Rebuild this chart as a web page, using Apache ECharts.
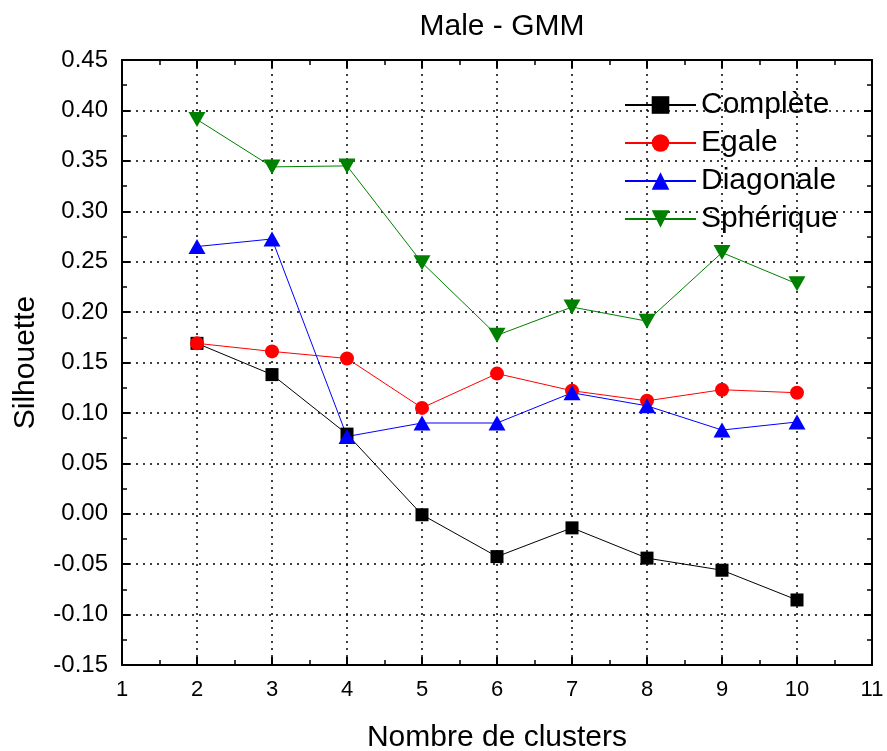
<!DOCTYPE html>
<html>
<head>
<meta charset="utf-8">
<script src="https://cdn.jsdelivr.net/npm/echarts@6/dist/echarts.min.js"></script>
<style>html,body{margin:0;padding:0;background:#fff}#c{width:887px;height:751px}</style>
</head>
<body>
<div id="c"></div>
<script>
const clusters = [2, 3, 4, 5, 6, 7, 8, 9, 10];
const complete = [0.169, 0.138, 0.079, -0.001, -0.0425, -0.014, -0.044, -0.056, -0.0855];
const egale = [0.169, 0.161, 0.154, 0.105, 0.139, 0.122, 0.112, 0.123, 0.120];
const diagonale = [0.265, 0.2725, 0.0766, 0.090, 0.090, 0.120, 0.107, 0.083, 0.091];
const spherique = [0.391, 0.344, 0.345, 0.249, 0.177, 0.205, 0.191, 0.259, 0.228];
const seriesNames = ['Complète', 'Egale', 'Diagonale', 'Sphérique'];

const FONT = 'Liberation Sans, Arial, sans-serif';
const pair = arr => clusters.map((x, i) => [x, arr[i]]);

const chart = echarts.init(document.getElementById('c'), null, {renderer: 'canvas'});
const axisCommon = {
  axisLine: {show: true, onZero: false, lineStyle: {color: '#000', width: 2}},
  axisTick: {show: true, inside: true, length: 8, lineStyle: {color: '#000', width: 2}},
  minorTick: {show: true, splitNumber: 2, length: 5, lineStyle: {color: '#000', width: 1.5}},
};
chart.setOption({
  animation: false,
  backgroundColor: '#fff',
  title: {
    text: 'Male - GMM', left: 497, top: 7, textAlign: 'center',
    textStyle: {fontFamily: FONT, fontSize: 30, fontWeight: 'normal', color: '#000'}
  },
  grid: {left: 122, right: 15, top: 60, bottom: 86, outerBoundsMode: 'none', containLabel: false},
  legend: {
    orient: 'vertical', left: 619, top: 85,
    itemWidth: 71, itemHeight: 22, itemGap: 8,
    textStyle: {fontFamily: FONT, fontSize: 30, color: '#000'},
    data: seriesNames
  },
  xAxis: [
    Object.assign({
      type: 'value', min: 1, max: 11, interval: 1, position: 'bottom',
      name: 'Nombre de clusters', nameLocation: 'middle', nameGap: 58,
      nameTextStyle: {fontFamily: FONT, fontSize: 30, color: '#000'},
      axisLabel: {fontFamily: FONT, fontSize: 22, color: '#000', margin: 14},
      splitLine: {show: true, lineStyle: {color: '#000', type: [2, 5], width: 1.5}}
    }, axisCommon),
    Object.assign({
      type: 'value', min: 1, max: 11, interval: 1, position: 'top',
      axisLabel: {show: false}, splitLine: {show: false}
    }, axisCommon)
  ],
  yAxis: [
    Object.assign({
      type: 'value', min: -0.15, max: 0.45, interval: 0.05, position: 'left',
      name: 'Silhouette', nameLocation: 'middle', nameGap: 81, nameRotate: 90,
      nameTextStyle: {fontFamily: FONT, fontSize: 30, color: '#000'},
      axisLabel: {fontFamily: FONT, fontSize: 24, color: '#000', margin: 14,
        formatter: v => (Math.abs(v) < 1e-9 ? 0 : v).toFixed(2)},
      splitLine: {show: true, lineStyle: {color: '#000', type: [2, 5], width: 1.5}}
    }, axisCommon),
    Object.assign({
      type: 'value', min: -0.15, max: 0.45, interval: 0.05, position: 'right',
      axisLabel: {show: false}, splitLine: {show: false}
    }, axisCommon)
  ],
  series: [
    {name: seriesNames[0], type: 'line', data: pair(complete), symbol: 'rect', symbolSize: 13,
     itemStyle: {color: '#000'}, lineStyle: {color: '#000', width: 1}},
    {name: seriesNames[1], type: 'line', data: pair(egale), symbol: 'circle', symbolSize: 14,
     itemStyle: {color: '#ff0000'}, lineStyle: {color: '#ff0000', width: 1}},
    {name: seriesNames[2], type: 'line', data: pair(diagonale), symbol: 'triangle', symbolSize: [17, 15],
     itemStyle: {color: '#0000ff'}, lineStyle: {color: '#0000ff', width: 1}},
    {name: seriesNames[3], type: 'line', data: pair(spherique), symbol: 'triangle', symbolRotate: 180, symbolSize: [17, 15],
     itemStyle: {color: '#008000'}, lineStyle: {color: '#008000', width: 1}}
  ]
});
</script>
</body>
</html>
